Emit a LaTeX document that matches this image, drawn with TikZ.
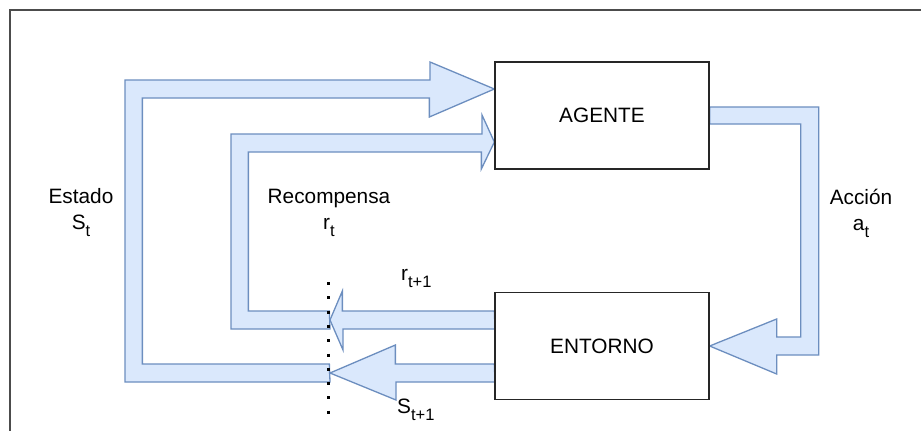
\documentclass[tikz,border=0pt]{standalone}
\usepackage{fontspec}
\setmainfont{Liberation Sans}
\usepackage{tikz}
\usetikzlibrary{backgrounds}
\definecolor{azul}{HTML}{DAE8FC}
\definecolor{borde}{HTML}{6C8EBF}
\newcommand{\ind}[1]{\raisebox{-7pt}{\fontsize{16.5}{18}\selectfont #1}}

\begin{document}
\begin{tikzpicture}[x=1pt, y=-1pt, node distance=230.5pt]
        \tikzstyle{bloque}=[rectangle, draw=black!85, line width=1.3pt, fill=white, minimum width=214pt, minimum height=107pt, font=\fontsize{20.8}{25}\selectfont]
        \tikzstyle{flecha}=[fill=azul, draw=borde, line width=1.3pt]
        \tikzstyle{etiqueta}=[align=center, inner sep=0pt, font=\fontsize{20.8}{26}\selectfont]
        \useasboundingbox (0,0) rectangle (921,431);
        \draw [black!70, line width=1.8pt] (10,431) -- (10,10) -- (921,10);
        \begin{scope}
          \node [bloque] (agente) at (602,115.5) {AGENTE};
          \node [bloque] (entorno) [below of=agente] {ENTORNO};
          \coordinate (st) at (330,373);
          \coordinate (rt) at (330,320);
          \coordinate (tips) at ([yshift=26.5pt]agente.west);
          \coordinate (tipr) at ([yshift=-26.5pt]agente.west);
        \end{scope}
        \begin{pgfonlayer}{background}
          % accion
          \filldraw [flecha] ([yshift=8.5pt]agente.east) -- ++(109,0) -- ++(0,248) -- ++(-42,0)
            -- ++(0,19) -- (entorno.east) -- ++(67,-27) -- ++(0,18) -- ++(24,0) -- ++(0,-213) -- ++(-91,0) -- cycle;
          % estado
          \filldraw [flecha] ([yshift=-9pt]st) -- ++(-205,0) -- ++(0,-302) -- ++(305,0) -- ++(0,-18)
            -- (tips) -- ++(-65,28) -- ++(0,-19) -- ++(-287,0) -- ++(0,266) -- ++(187,0) -- cycle;
          \filldraw [flecha] ([yshift=-18pt]entorno.west) -- ++(-99,0) -- ++(0,-19) -- (st)
            -- ++(66,27) -- ++(0,-18) -- ++(99,0) -- cycle;
          % recompensa
          \filldraw [flecha] ([yshift=-9pt]rt) -- ++(-99,0) -- ++(0,-195) -- ++(251,0) -- ++(0,-19)
            -- (tipr) -- ++(-13,27) -- ++(0,-17) -- ++(-233,0) -- ++(0,159) -- ++(81,0) -- cycle;
          \filldraw [flecha] ([yshift=35pt]entorno.west) -- ++(-152,0) -- ++(0,-20) -- (rt)
            -- ++(13,30) -- ++(0,-21) -- ++(152,0) -- cycle;
        \end{pgfonlayer}
        \draw [line width=3pt, dash pattern=on 3pt off 11.3pt] (328,282) -- (328,416);
        \node [etiqueta] (estado) at (81,213) {Estado\\S\ind{t}};
        \node [etiqueta] (recompensa) at (329,213) {Recompensa\\r\ind{t}};
        \node [etiqueta] (accion) at (861,213) {Acción\\a\ind{t}};
        \node [etiqueta, anchor=base west] (rt1) at (401,280) {r\ind{t+1}};
        \node [etiqueta, anchor=base west] (st1) at (397,413) {S\ind{t+1}};
      \end{tikzpicture}
\end{document}
